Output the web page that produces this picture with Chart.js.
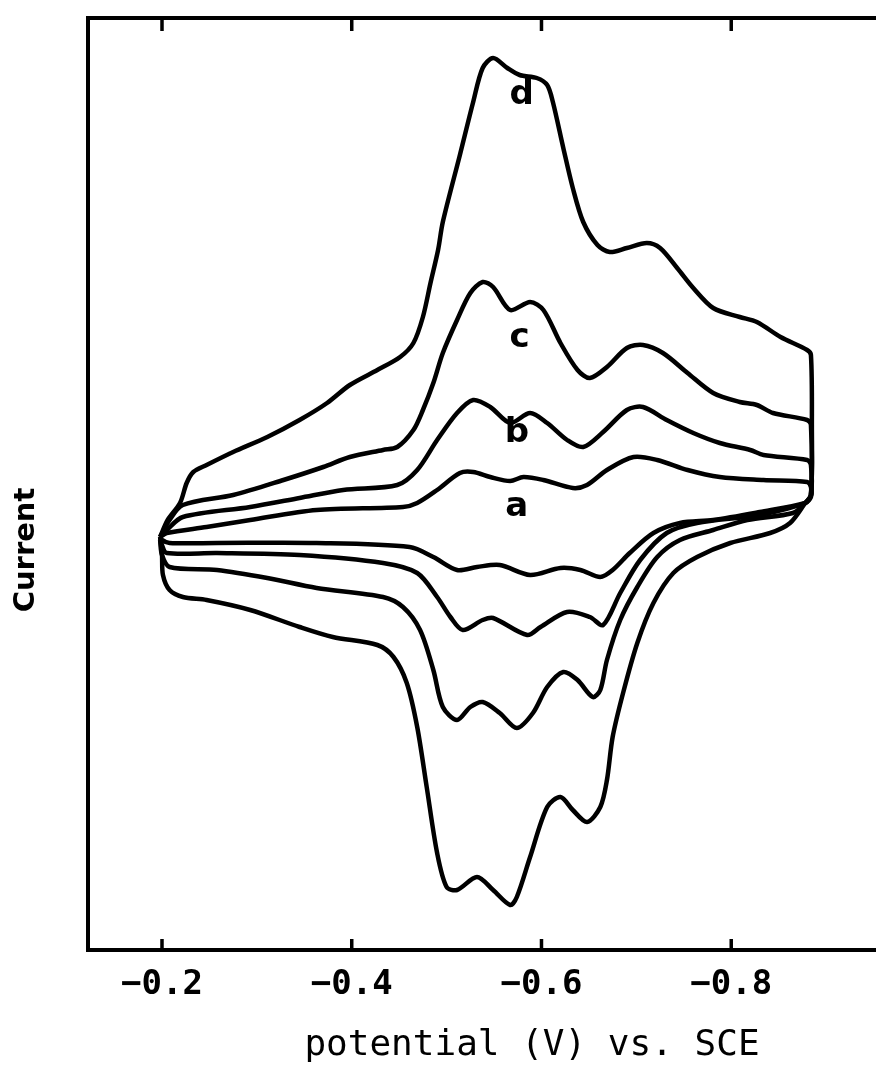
<!DOCTYPE html>
<html>
<head>
<meta charset="utf-8">
<script src="https://cdn.jsdelivr.net/npm/chart.js@4.4.1/dist/chart.umd.min.js"></script>
<style>
    html, body { margin: 0; padding: 0; background: #fff; overflow: hidden; }
    #wrap { width: 976px; height: 1085px; }
</style>
</head>
<body>
<div id="wrap"><canvas id="cv" width="976" height="1085"></canvas></div>
<script>
// potential (V vs. SCE) and current (arbitrary units)
// each curve: forward branch left -> right, then return branch right -> left
const curveD_V = [-0.198,-0.206,-0.219,-0.226,-0.233,-0.247,-0.275,-0.311,-0.345,-0.374,-0.398,-0.427,-0.451,-0.465,-0.475,-0.483,-0.491,-0.496,-0.514,-0.528,-0.538,-0.549,-0.564,-0.577,-0.595,-0.606,-0.612,-0.623,-0.633,-0.644,-0.659,-0.672,-0.690,-0.711,-0.725,-0.743,-0.760,-0.781,-0.809,-0.827,-0.852,-0.880,-0.884,-0.885,-0.884,
    -0.878,-0.862,-0.841,-0.799,-0.764,-0.739,-0.718,-0.701,-0.686,-0.675,-0.669,-0.662,-0.648,-0.633,-0.620,-0.606,-0.588,-0.574,-0.567,-0.549,-0.532,-0.511,-0.500,-0.490,-0.479,-0.469,-0.458,-0.444,-0.427,-0.380,-0.345,-0.293,-0.247,-0.222,-0.208,-0.201,-0.200,-0.198];
const curveD_I = [-0.2,1.5,3.2,5.2,6.3,7.0,8.3,9.8,11.5,13.2,15.0,16.5,17.8,19.2,21.8,25.2,28.5,31.3,38.0,43.3,46.7,47.7,46.7,46.0,45.7,45.0,43.3,38.7,34.7,31.3,29.0,28.3,28.7,29.2,28.7,26.7,24.7,22.7,21.8,21.3,19.8,18.5,18.0,11.0,4.0,
    3.2,1.2,0.2,-0.8,-2.2,-3.8,-6.8,-10.8,-15.8,-20.2,-24.5,-27.2,-28.7,-27.5,-26.2,-27.2,-32.2,-36.2,-37.0,-35.5,-34.2,-35.5,-35.2,-31.8,-25.2,-19.2,-14.8,-12.2,-11.0,-10.2,-9.2,-7.5,-6.5,-6.2,-5.5,-4.0,-2.0,-0.2];

const curveC_V = [-0.198,-0.208,-0.222,-0.275,-0.328,-0.370,-0.398,-0.433,-0.448,-0.465,-0.475,-0.486,-0.496,-0.511,-0.525,-0.538,-0.549,-0.567,-0.588,-0.602,-0.620,-0.638,-0.651,-0.669,-0.690,-0.707,-0.728,-0.754,-0.781,-0.809,-0.827,-0.844,-0.880,-0.884,-0.884,
    -0.878,-0.865,-0.817,-0.781,-0.746,-0.722,-0.701,-0.683,-0.669,-0.662,-0.654,-0.638,-0.623,-0.606,-0.591,-0.574,-0.556,-0.538,-0.525,-0.511,-0.496,-0.486,-0.472,-0.454,-0.433,-0.363,-0.311,-0.258,-0.208,-0.200,-0.198];
const curveC_I = [-0.2,1.5,3.0,4.0,5.5,6.8,7.8,8.5,8.8,10.5,12.5,15.2,18.2,21.5,24.2,25.3,24.8,22.5,23.3,22.5,19.2,16.5,15.7,16.8,18.7,19.0,18.2,16.2,14.2,13.3,13.0,12.2,11.5,11.0,4.0,
    3.2,2.2,1.5,0.5,-0.5,-2.2,-5.2,-8.5,-12.5,-15.5,-16.2,-14.5,-13.7,-15.2,-17.8,-19.3,-17.8,-16.7,-17.2,-18.5,-17.2,-13.5,-9.5,-7.2,-6.2,-5.3,-4.3,-3.5,-3.2,-2.0,-0.5];

const curveB_V = [-0.198,-0.205,-0.222,-0.293,-0.345,-0.391,-0.448,-0.469,-0.490,-0.511,-0.528,-0.546,-0.567,-0.588,-0.606,-0.627,-0.644,-0.665,-0.690,-0.707,-0.732,-0.760,-0.788,-0.820,-0.834,-0.880,-0.884,-0.884,
    -0.878,-0.830,-0.764,-0.732,-0.704,-0.683,-0.665,-0.651,-0.627,-0.599,-0.585,-0.549,-0.538,-0.517,-0.504,-0.490,-0.469,-0.433,-0.345,-0.258,-0.205,-0.200,-0.198];
const curveB_I = [-0.2,0.5,1.8,2.8,3.7,4.5,5.0,6.5,9.5,12.2,13.5,12.8,11.2,12.2,11.2,9.5,8.8,10.3,12.5,12.8,11.5,10.2,9.2,8.5,8.0,7.5,7.0,4.0,
    3.2,2.0,1.2,0.2,-2.5,-5.8,-9.0,-8.2,-7.7,-9.2,-10.0,-8.3,-8.5,-9.5,-8.2,-6.2,-3.8,-2.8,-2.0,-1.8,-1.8,-1.0,-0.2];

const curveA_V = [-0.198,-0.205,-0.247,-0.293,-0.363,-0.454,-0.469,-0.490,-0.514,-0.528,-0.546,-0.567,-0.581,-0.602,-0.633,-0.648,-0.669,-0.697,-0.722,-0.754,-0.788,-0.834,-0.880,-0.884,-0.884,
    -0.878,-0.830,-0.781,-0.746,-0.718,-0.693,-0.675,-0.662,-0.641,-0.620,-0.588,-0.556,-0.532,-0.511,-0.486,-0.461,-0.363,-0.258,-0.208,-0.200,-0.198];
const curveA_I = [-0.2,0.2,0.8,1.5,2.5,2.8,3.2,4.5,6.2,6.3,5.8,5.4,5.8,5.5,4.7,5.0,6.5,7.8,7.5,6.5,5.8,5.5,5.3,4.8,3.8,
    3.2,2.3,1.5,1.2,0.2,-1.8,-3.5,-4.2,-3.5,-3.3,-4.0,-3.0,-3.2,-3.5,-2.2,-1.2,-0.8,-0.8,-0.8,-0.5,-0.2];

const xTicks = [-0.2, -0.4, -0.6, -0.8];

// curve labels and where they sit (data units)
const labelText = ['a', 'b', 'c', 'd'];
const labelV = [-0.574, -0.574, -0.577, -0.579];
const labelI = [2.8, 10.2, 19.7, 44.0];

function toPoints(xs, ys) {
    return xs.map((x, i) => ({ x: x, y: ys[i] }));
}

function curve(xs, ys) {
    return {
        data: toPoints(xs, ys),
        showLine: true,
        borderColor: '#000',
        borderWidth: 4.5,
        pointRadius: 0,
        tension: 0.3,
        fill: false
    };
}

// frame top line, inward ticks, y title, curve letters
const decorPlugin = {
    id: 'decor',
    afterDraw(chart) {
        const ctx = chart.ctx;
        const area = chart.chartArea;
        const xs = chart.scales.x;
        const ys = chart.scales.y;
        ctx.save();
        ctx.strokeStyle = '#000';
        ctx.lineWidth = 4;
        ctx.beginPath();
        ctx.moveTo(area.left - 2, area.top);
        ctx.lineTo(area.right, area.top);
        ctx.stroke();

        ctx.lineWidth = 3.5;
        xTicks.forEach(v => {
            const px = xs.getPixelForValue(v);
            ctx.beginPath();
            ctx.moveTo(px, area.top);
            ctx.lineTo(px, area.top + 13);
            ctx.moveTo(px, area.bottom);
            ctx.lineTo(px, area.bottom - 11);
            ctx.stroke();
        });

        ctx.fillStyle = '#000';
        ctx.font = 'bold 29px "DejaVu Sans"';
        ctx.textAlign = 'center';
        ctx.textBaseline = 'middle';
        ctx.translate(26, 550);
        ctx.rotate(-Math.PI / 2);
        ctx.fillText('Current', 0, 0);
        ctx.restore();

        ctx.save();
        ctx.fillStyle = '#000';
        ctx.font = 'bold 34px "DejaVu Sans"';
        ctx.textAlign = 'center';
        ctx.textBaseline = 'middle';
        labelText.forEach((t, i) => {
            ctx.fillText(t, xs.getPixelForValue(labelV[i]), ys.getPixelForValue(labelI[i]));
        });
        ctx.restore();
    }
};

const ctx = document.getElementById('cv').getContext('2d');
new Chart(ctx, {
    type: 'scatter',
    data: {
        datasets: [
            curve(curveA_V, curveA_I),
            curve(curveB_V, curveB_I),
            curve(curveC_V, curveC_I),
            curve(curveD_V, curveD_I)
        ]
    },
    options: {
        responsive: false,
        animation: false,
        devicePixelRatio: 1,
        layout: { padding: { top: 18, left: 0, right: 0, bottom: 0 } },
        plugins: {
            legend: { display: false },
            tooltip: { enabled: false }
        },
        scales: {
            x: {
                type: 'linear',
                position: 'bottom',
                reverse: true,
                min: -1.058,
                max: -0.122,
                afterBuildTicks: scale => {
                    scale.ticks = xTicks.map(v => ({ value: v }));
                },
                afterFit: scale => { scale.height = 135; },
                grid: { display: false, drawTicks: false },
                border: { display: true, color: '#000', width: 4 },
                ticks: {
                    color: '#000',
                    padding: 15,
                    maxRotation: 0,
                    font: { family: '"DejaVu Sans Mono"', size: 34, weight: 'bold' },
                    callback: v => '\u2212' + Math.abs(v).toFixed(1)
                },
                title: {
                    display: true,
                    text: 'potential (V) vs. SCE',
                    color: '#000',
                    font: { family: '"DejaVu Sans Mono"', size: 36 },
                    padding: { top: 0, bottom: 18 }
                }
            },
            y: {
                type: 'linear',
                min: -41.5,
                max: 51.7,
                afterFit: scale => { scale.width = 88; },
                grid: { display: false, drawTicks: false },
                border: { display: true, color: '#000', width: 4 },
                ticks: { display: false }
            }
        }
    },
    plugins: [decorPlugin]
});
</script>
</body>
</html>
